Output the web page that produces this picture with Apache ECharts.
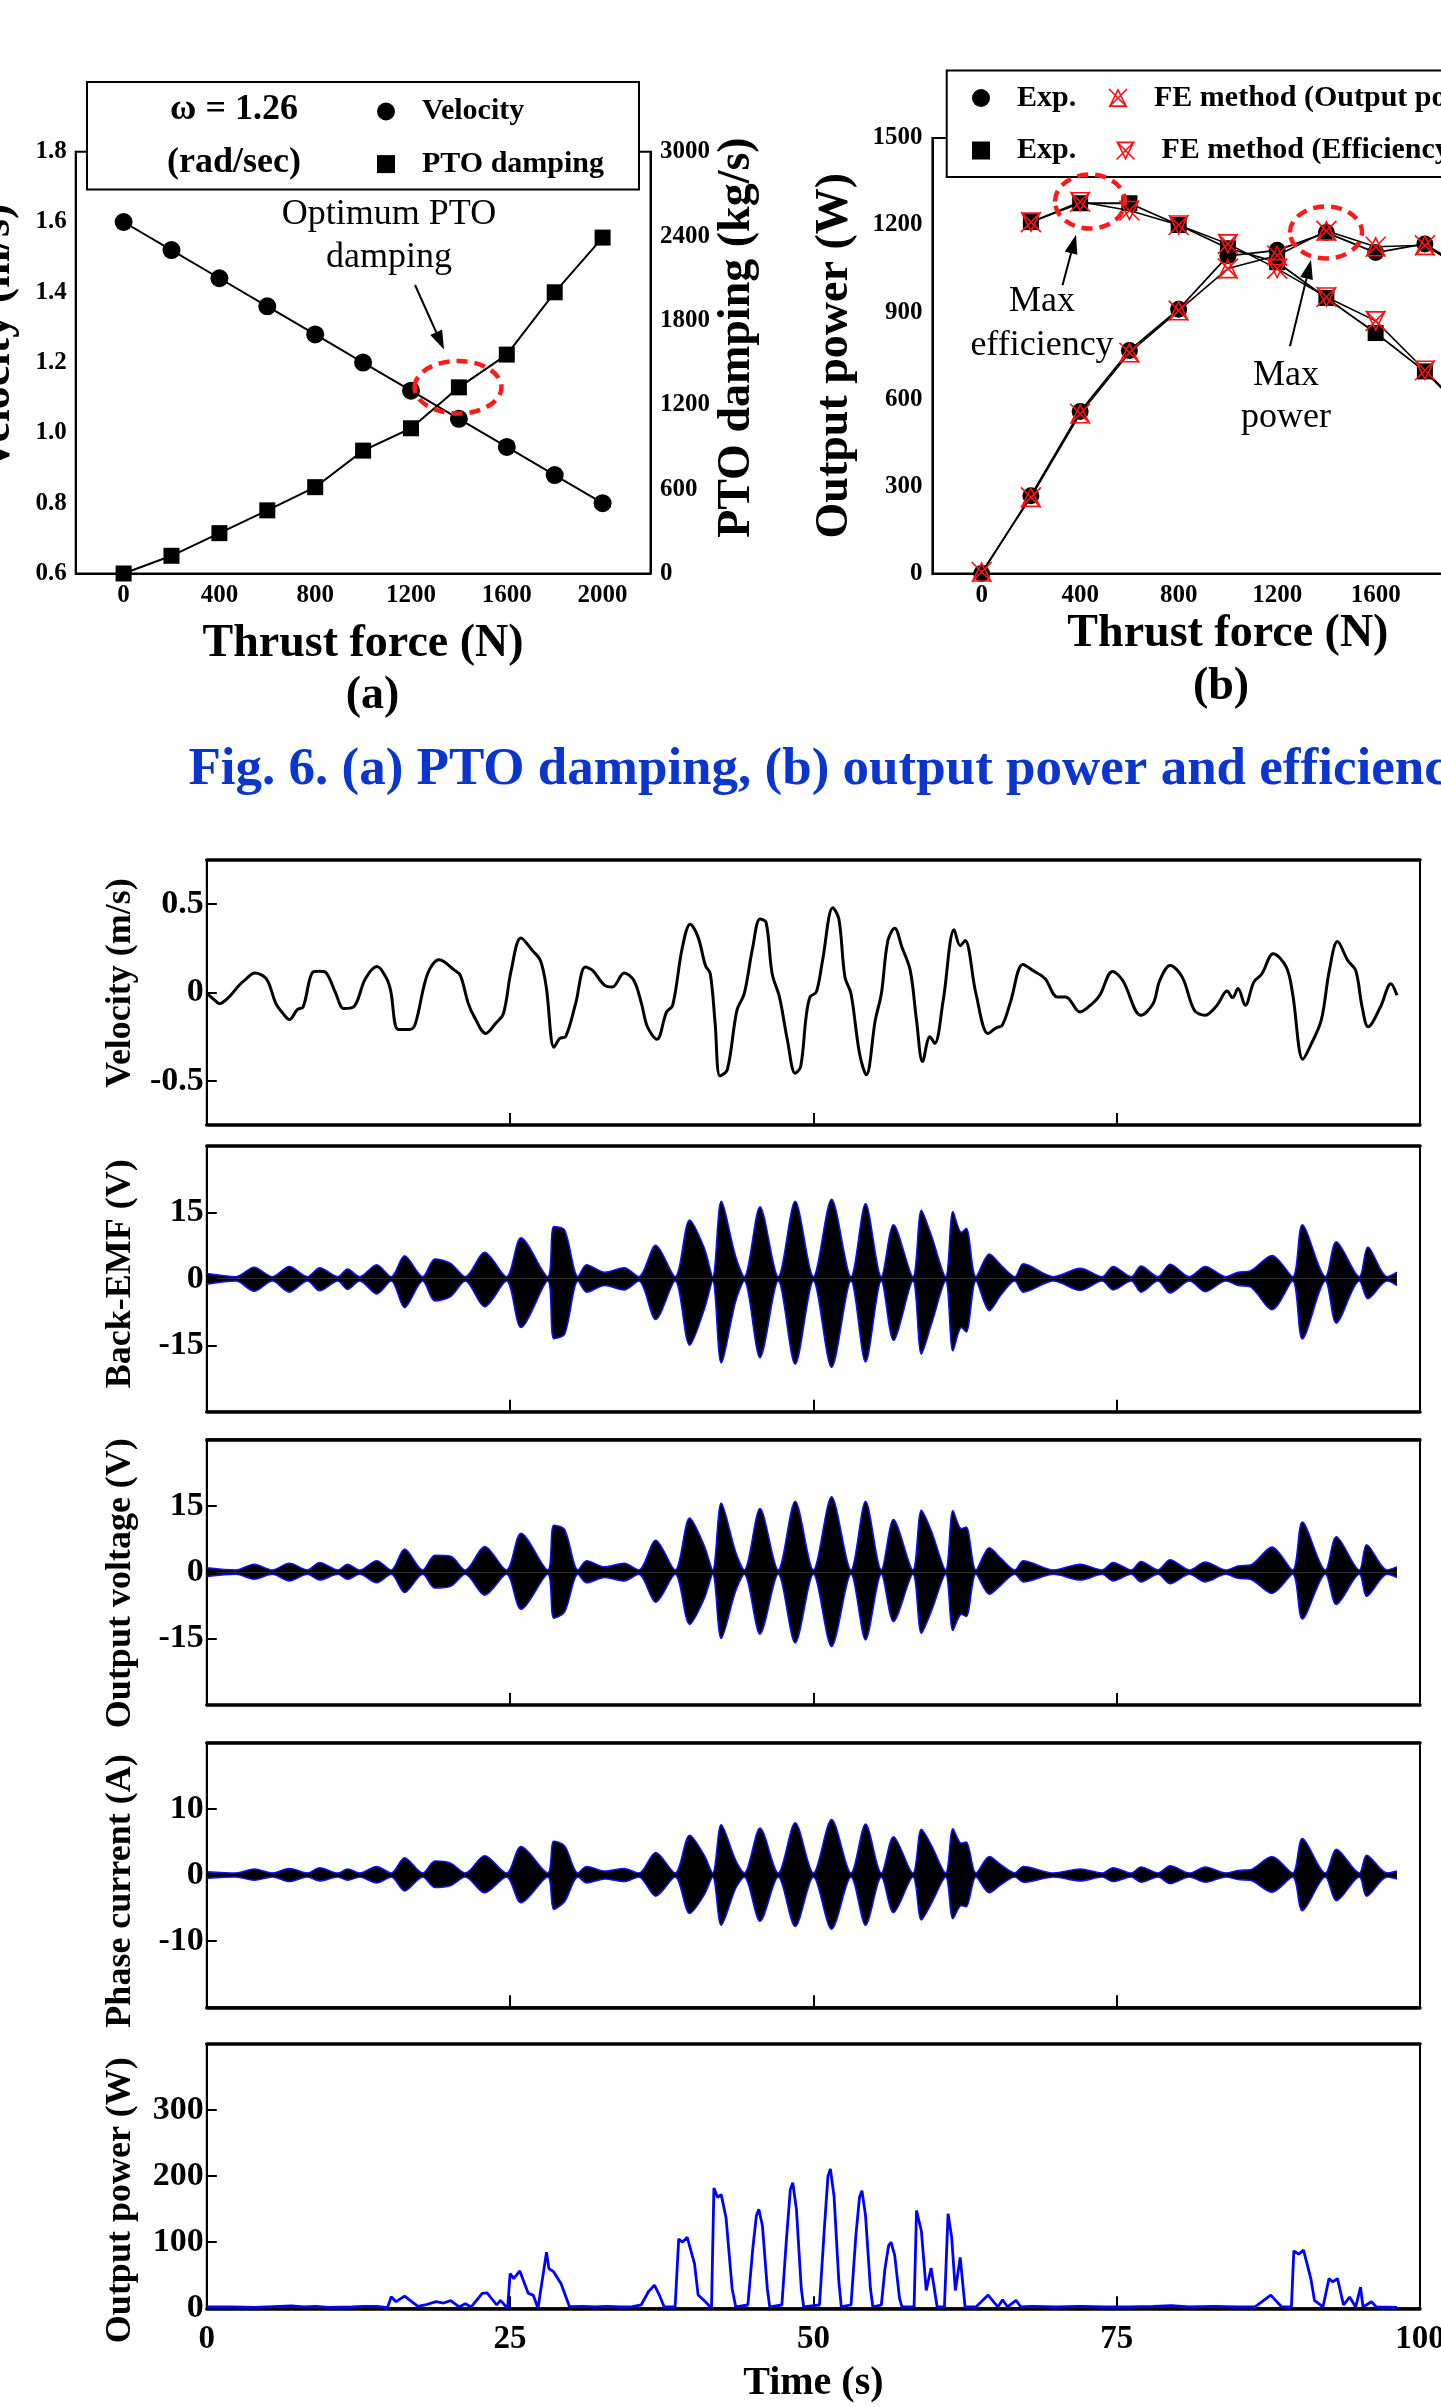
<!DOCTYPE html>
<html><head><meta charset="utf-8">
<script src="https://cdn.jsdelivr.net/npm/echarts@6/dist/echarts.min.js"></script>
<style>html,body{margin:0;padding:0;background:#fff;overflow:hidden;width:1441px;height:2407px}#c{width:1600px;height:2407px}</style>
</head><body><div id="c"></div>
<script>
// ---------- data: Fig. 6 (a) and (b) ----------
const thrustForce = [0,200,400,600,800,1000,1200,1400,1600,1800,2000];
const velocityA   = [1.60,1.52,1.44,1.36,1.28,1.20,1.12,1.04,0.96,0.88,0.80];
const ptoDamping  = [0,126,287,449,614,874,1033,1324,1557,2000,2389];
const powerExp    = [0,268,558,768,910,1094,1113,1174,1105,1135,1030];
const powerFE     = [5,262,550,760,905,1050,1095,1180,1125,1130,1025];
const effExp      = [null,1210,1275,1275,1200,1120,1072,949,828,696,525];
const effFE       = [null,1210,1280,1250,1200,1135,1050,952,870,700,530];

// ---------- tick labels ----------
const forceTicks  = [0,400,800,1200,1600,2000];
const velTicksA   = [0.6,0.8,1.0,1.2,1.4,1.6,1.8];
const ptoTicks    = [0,600,1200,1800,2400,3000];
const powerTicksB = [0,300,600,900,1200,1500];
const velTicks    = [-0.5,0,0.5];
const emfTicks    = [-15,0,15];
const voltTicks   = [-15,0,15];
const currTicks   = [-10,0,10];
const powTicks    = [0,100,200,300];

// ---------- time series (t [s], value) ----------
const velocityWave = [[0.1,-0.01],[0.6,-0.04],[1.04,-0.063],[1.84,-0.025],[2.65,0.04],[3.3,0.08],[3.93,0.11],[4.9,0.078],[5.7,-0.063],[6.3,-0.12],[6.81,-0.153],[7.46,-0.097],[7.94,-0.082],[8.74,0.115],[9.3,0.12],[9.86,0.11],[10.6,0.0],[11.3,-0.091],[12.1,-0.082],[13.07,0.078],[14.03,0.147],[14.83,0.078],[15.15,0.012],[15.79,-0.209],[16.76,-0.209],[17.2,-0.175],[18.2,0.106],[19.16,0.185],[20.44,0.125],[20.9,0.097],[21.56,-0.063],[22.05,-0.138],[23.0,-0.232],[23.8,-0.175],[24.45,-0.119],[25.09,0.125],[25.9,0.309],[26.85,0.237],[27.5,0.181],[27.98,0.031],[28.62,-0.31],[29.1,-0.26],[29.58,-0.25],[30.4,-0.063],[31.2,0.144],[31.8,0.125],[32.8,0.04],[33.43,0.031],[34.4,0.11],[35.2,0.068],[35.83,-0.063],[36.32,-0.194],[37.1,-0.265],[37.9,-0.11],[38.4,-0.073],[39.2,0.256],[39.85,0.387],[40.5,0.312],[41.1,0.153],[41.5,0.106],[41.9,-0.175],[42.3,-0.472],[42.9,-0.438],[43.7,-0.1],[44.3,-0.007],[45.0,0.256],[45.6,0.416],[46.1,0.397],[46.6,0.106],[47.2,-0.025],[47.86,-0.27],[48.5,-0.457],[48.95,-0.42],[49.4,-0.138],[49.73,-0.025],[50.24,0.003],[50.75,0.18],[51.6,0.48],[52.1,0.416],[52.6,0.087],[53.1,-0.007],[53.8,-0.344],[54.36,-0.466],[55.1,-0.157],[55.6,-0.007],[56.14,0.294],[56.7,0.363],[57.3,0.256],[57.98,0.125],[58.5,-0.157],[59.0,-0.391],[59.6,-0.25],[60.0,-0.288],[60.7,-0.044],[61.6,0.355],[62.1,0.265],[62.5,0.294],[63.4,-0.007],[64.4,-0.232],[65.06,-0.2],[65.57,-0.185],[66.25,-0.053],[67.27,0.159],[68.1,0.125],[69.1,0.078],[70.1,-0.025],[70.8,-0.025],[71.97,-0.11],[72.98,-0.063],[73.6,-0.016],[74.66,0.119],[75.5,0.068],[77.0,-0.129],[78.0,-0.063],[78.55,0.068],[79.4,0.153],[80.4,0.087],[81.4,-0.1],[82.26,-0.129],[83.26,-0.073],[84.1,0.008],[84.55,-0.029],[85.0,0.022],[85.6,-0.073],[86.3,0.059],[86.97,0.106],[87.9,0.219],[88.98,0.144],[89.5,-0.007],[90.35,-0.378],[91.0,-0.297],[91.86,-0.157],[92.53,0.125],[93.2,0.288],[94.05,0.181],[94.7,0.125],[95.23,-0.082],[95.73,-0.194],[96.74,-0.082],[97.6,0.05],[98.1,-0.016]];

// envelopes [t, upper, lower]
const emfEnvelope = [[0,1.2,-1.2],[2.4,0.5,-0.5],[3.9,2.6,-2.8],[5.4,0.5,-0.5],[6.8,2.8,-3.0],[8.3,0.5,-0.5],[9.3,2.5,-2.7],[10.8,0.5,-0.5],[11.6,2.2,-2.4],[12.6,0.5,-0.5],[14.0,3.2,-3.4],[15.2,0.5,-0.5],[16.3,5.2,-6.5],[17.8,0.5,-0.5],[18.8,4.5,-5.0],[20.1,3.5,-4.0],[21.3,0.5,-0.5],[22.9,6.0,-6.3],[24.7,0.5,-0.5],[25.9,9.3,-11.0],[28.1,0.5,-0.5],[28.6,11.8,-13.5],[29.5,11.0,-12.5],[30.6,0.5,-0.5],[31.3,3.2,-3.0],[32.8,1.5,-1.5],[34.4,2.5,-2.5],[35.6,0.5,-0.5],[37.0,7.6,-9.2],[38.6,0.5,-0.5],[39.8,13.3,-15.0],[41.0,7.0,-7.0],[41.7,0.5,-0.5],[42.4,17.5,-19.0],[43.6,5.0,-5.0],[44.3,0.5,-0.5],[45.6,16.3,-17.8],[47.1,0.5,-0.5],[48.5,17.5,-19.3],[50.0,0.5,-0.5],[51.5,18.0,-20.0],[53.1,0.5,-0.5],[54.3,17.0,-18.8],[55.6,0.5,-0.5],[56.6,12.2,-13.9],[58.2,0.5,-0.5],[58.9,15.5,-17.0],[59.7,10.0,-10.5],[60.9,0.5,-0.5],[61.5,15.2,-16.3],[62.2,10.5,-11.0],[62.6,11.4,-12.0],[63.4,0.5,-0.5],[64.5,5.6,-7.2],[65.5,3.0,-3.5],[66.6,0.5,-0.5],[67.3,3.4,-3.0],[69.8,0.5,-0.5],[72.0,2.4,-2.6],[73.8,0.5,-0.5],[74.7,2.8,-2.5],[76.2,0.5,-0.5],[77.0,2.9,-3.0],[78.4,0.5,-0.5],[79.4,3.3,-3.2],[81.0,0.5,-0.5],[82.3,2.8,-2.9],[84.0,0.5,-0.5],[85.0,1.5,-1.5],[86.0,1.8,-1.8],[87.8,5.3,-7.0],[89.5,0.5,-0.5],[90.3,12.2,-13.6],[92.2,0.5,-0.5],[93.1,8.4,-10.0],[95.0,0.5,-0.5],[95.7,7.2,-4.5],[97.3,0.5,-0.5],[98.1,1.5,-1.5]];

const voltEnvelope = [[0,1.0,-1.0],[2.4,0.5,-0.5],[3.9,1.8,-1.6],[5.4,0.5,-0.5],[6.8,2.0,-2.0],[8.3,0.5,-0.5],[9.3,2.2,-1.8],[10.8,0.5,-0.5],[11.6,1.8,-1.6],[12.6,0.5,-0.5],[14.0,2.6,-2.4],[15.2,0.5,-0.5],[16.3,5.2,-4.6],[17.8,0.5,-0.5],[18.8,3.8,-3.6],[20.1,3.6,-3.2],[21.3,0.5,-0.5],[22.9,5.8,-5.2],[24.7,0.5,-0.5],[25.9,8.8,-8.4],[28.1,0.5,-0.5],[28.6,10.6,-10.4],[29.5,9.6,-9.0],[30.6,0.5,-0.5],[31.3,2.6,-2.4],[32.8,1.2,-1.2],[34.4,2.0,-2.0],[35.6,0.5,-0.5],[37.0,7.2,-6.8],[38.6,0.5,-0.5],[39.8,12.2,-11.8],[41.0,6.0,-6.0],[41.7,0.5,-0.5],[42.4,15.6,-15.0],[43.6,4.5,-4.2],[44.3,0.5,-0.5],[45.6,14.4,-14.0],[47.1,0.5,-0.5],[48.5,16.0,-16.0],[50.0,0.5,-0.5],[51.5,17.0,-16.8],[53.1,0.5,-0.5],[54.3,16.0,-15.3],[55.6,0.5,-0.5],[56.6,11.9,-11.2],[58.2,0.5,-0.5],[58.9,14.0,-13.8],[59.7,9.5,-9.0],[60.9,0.5,-0.5],[61.5,13.9,-13.2],[62.2,9.8,-9.5],[62.6,10.2,-10.0],[63.4,0.5,-0.5],[64.5,5.5,-5.0],[65.5,3.0,-2.8],[66.6,0.5,-0.5],[67.3,2.6,-2.2],[69.8,0.5,-0.5],[72.0,1.8,-1.8],[73.8,0.5,-0.5],[74.7,2.2,-2.0],[76.2,0.5,-0.5],[77.0,2.4,-2.2],[78.4,0.5,-0.5],[79.4,2.8,-2.6],[81.0,0.5,-0.5],[82.3,2.3,-2.2],[84.0,0.5,-0.5],[85.0,1.4,-1.4],[86.0,1.6,-1.6],[87.8,5.7,-4.8],[89.5,0.5,-0.5],[90.3,11.3,-10.6],[92.2,0.5,-0.5],[93.1,8.0,-7.3],[95.0,0.5,-0.5],[95.6,6.2,-5.5],[97.3,0.5,-0.5],[98.1,1.2,-1.2]];

const currEnvelope = [[0,0.5,-0.5],[2.4,0.3,-0.3],[3.9,0.9,-0.8],[5.4,0.3,-0.3],[6.8,1.0,-1.0],[8.3,0.3,-0.3],[9.3,1.1,-0.9],[10.8,0.3,-0.3],[11.6,0.9,-0.8],[12.6,0.3,-0.3],[14.0,1.3,-1.2],[15.2,0.3,-0.3],[16.3,2.6,-2.4],[17.8,0.3,-0.3],[18.8,2.1,-1.9],[20.1,1.8,-1.6],[21.3,0.3,-0.3],[22.9,2.9,-2.7],[24.7,0.3,-0.3],[25.9,4.3,-4.2],[28.1,0.3,-0.3],[28.6,5.1,-5.2],[29.5,4.4,-4.0],[30.6,0.3,-0.3],[31.3,1.3,-1.2],[32.8,0.6,-0.6],[34.4,1.0,-1.0],[35.6,0.3,-0.3],[37.0,3.4,-3.2],[38.6,0.3,-0.3],[39.8,6.0,-5.8],[41.0,3.0,-3.0],[41.7,0.3,-0.3],[42.4,7.6,-7.6],[43.6,2.2,-2.0],[44.3,0.3,-0.3],[45.6,7.1,-7.0],[47.1,0.3,-0.3],[48.5,7.9,-7.8],[50.0,0.3,-0.3],[51.5,8.4,-8.2],[53.1,0.3,-0.3],[54.3,7.7,-7.6],[55.6,0.3,-0.3],[56.6,5.8,-5.7],[58.2,0.3,-0.3],[58.9,6.9,-6.8],[59.7,4.6,-4.4],[60.9,0.3,-0.3],[61.5,7.0,-6.6],[62.2,4.8,-4.6],[62.6,5.0,-4.8],[63.4,0.3,-0.3],[64.5,2.8,-2.7],[65.5,1.5,-1.4],[66.6,0.3,-0.3],[67.3,1.3,-1.1],[69.8,0.3,-0.3],[72.0,0.9,-0.9],[73.8,0.3,-0.3],[74.7,1.1,-1.0],[76.2,0.3,-0.3],[77.0,1.2,-1.1],[78.4,0.3,-0.3],[79.4,1.4,-1.3],[81.0,0.3,-0.3],[82.3,1.2,-1.1],[84.0,0.3,-0.3],[85.0,0.7,-0.7],[86.0,0.8,-0.8],[87.8,2.8,-2.6],[89.5,0.3,-0.3],[90.3,5.5,-5.4],[92.2,0.3,-0.3],[93.1,3.9,-3.9],[95.0,0.3,-0.3],[95.6,3.0,-3.2],[97.3,0.3,-0.3],[98.1,0.6,-0.6]];

const outputPowerWave = [[0,2],[2,2],[4,1.5],[6,3],[7,3.5],[8,2],[9,3],[10,1.5],[12,2],[13,3],[14,3],[14.9,1],[15.2,17.5],[15.6,10],[16.3,18.5],[17.4,3],[18.0,5],[18.9,10],[19.5,8],[20.1,11.5],[20.8,2],[21.3,7],[21.8,2],[22.7,22.5],[23.1,23.5],[23.9,5],[24.2,12],[24.8,0],[25.0,52.5],[25.3,45],[25.8,56.5],[26.5,22.5],[26.9,20],[27.3,0],[28.0,85],[28.2,60],[28.6,55],[29.2,37],[29.9,2.5],[31,3],[32,2],[33,3],[34,2],[35,2],[35.8,5],[36.4,25],[36.9,35],[37.3,20],[37.7,2],[38.6,2],[38.9,105],[39.2,100],[39.6,107.5],[40.2,67.5],[40.5,20],[41.1,10],[41.6,0],[41.8,182],[42.1,168],[42.4,172],[42.8,137],[43.3,30],[43.6,2],[44.6,5],[45.0,90],[45.3,140],[45.5,150],[45.8,125],[46.2,30],[46.4,2],[47.4,5],[47.8,110],[48.1,180],[48.3,190],[48.6,150],[49.0,30],[49.2,2],[50.5,5],[50.9,120],[51.2,200],[51.4,211],[51.7,170],[52.1,40],[52.3,2],[53.1,5],[53.5,110],[53.8,168],[54.0,178],[54.3,140],[54.7,30],[54.9,2],[55.6,5],[55.9,60],[56.2,95],[56.4,100],[56.7,80],[57.1,15],[57.3,2],[58.3,2],[58.5,148],[58.9,117],[59.3,27],[59.7,61],[60.2,2],[60.8,2],[61.1,143],[61.4,107],[61.7,27],[62.1,77],[62.5,2],[63.4,2],[64.4,20],[65.2,2],[65.6,13],[66.0,2],[66.7,12],[67.1,2],[68,3],[70,2],[72,3],[74,2],[76,2],[78,3],[79.5,4],[81,2],[83,3],[85,2],[86.4,2],[87.7,20],[88.6,2],[89.4,2],[89.6,87],[90.0,82],[90.4,88],[91.0,45],[91.3,12],[92.0,2],[92.5,45],[92.8,40],[93.2,45],[93.7,5],[94.2,17],[94.7,2],[95.1,32],[95.3,2],[96,10],[96.4,2],[98.1,1.5]];

// ---------- styling ----------
const FONT = '"Liberation Serif", "Times New Roman", serif';
const SYM_UP = 'path://M0 0 L20 20 M20 0 L0 20 M10 1 L19 19 L1 19 Z';
const SYM_DOWN = 'path://M0 0 L20 20 M20 0 L0 20 M1 1 L19 1 L10 19 Z';
const feItem = {color:'rgba(0,0,0,0)', borderColor:'#ff1010', borderWidth:1.6};
const blackTxt = {color:'#000', fontFamily:FONT, fontWeight:'bold'};
const plain = v => String(Math.round(v*1000)/1000);

const bottomTops = [860,1146,1439.3,1742.7,2044];
const bottomHeights = [265,265.7,265.7,264.6,264.3];

const grids = [
  {left:75.7, top:151.7, width:574.8, height:421.8},
  {left:932.4, top:137.9, width:591, height:435.6}
].concat(bottomTops.map((t,i)=>({left:206.8, top:t, width:1213.2, height:bottomHeights[i]})));
grids.forEach(g=>{g.show=true; g.borderColor='#000'; g.borderWidth=2; g.backgroundColor='transparent';
  g.containLabel=false; g.outerBoundsMode='none';});

function forceAxis(gi, gap){
  return {type:'value', gridIndex:gi, min:-200, max:2200,
    axisLine:{show:true, onZero:false, lineStyle:{color:'#000', width:2}}, axisTick:{show:false}, splitLine:{show:false},
    axisLabel:Object.assign({customValues:forceTicks, fontSize:25, margin:10, formatter:plain}, blackTxt),
    name:'Thrust force (N)', nameLocation:'middle', nameGap:gap,
    nameTextStyle:Object.assign({fontSize:46, lineHeight:46}, blackTxt)};
}
function timeAxis(gi, last){
  return {type:'value', gridIndex:gi, min:0, max:100, interval:25,
    axisLine:{show:true, onZero:false, lineStyle:{color:'#000', width:3.5}},
    axisTick:{show:true, inside:true, length:12, lineStyle:{color:'#000', width:2}},
    axisLabel:Object.assign({show:last, fontSize:33, margin:15, formatter:plain}, blackTxt),
    splitLine:{show:false},
    name: last ? 'Time (s)' : '', nameLocation:'middle', nameGap:55,
    nameTextStyle:Object.assign({fontSize:40, lineHeight:40}, blackTxt)};
}
function topAxis(gi){
  return {type:'value', gridIndex:gi, position:'top', min:0, max:100,
    axisLine:{show:true, onZero:false, lineStyle:{color:'#000', width:3.5}}, axisTick:{show:false}, axisLabel:{show:false}, splitLine:{show:false}};
}
function panelY(gi, min, max, ticks, name, pad){
  return {type:'value', gridIndex:gi, min, max,
    axisLine:{show:true, onZero:false, lineStyle:{color:'#000', width:2}},
    axisTick:{show:true, inside:true, length:10, customValues:ticks, lineStyle:{color:'#000', width:2}},
    axisLabel:Object.assign({customValues:ticks, fontSize:34, margin:3, formatter:plain}, blackTxt),
    splitLine:{show:false},
    name, nameLocation:'middle', nameRotate:90, nameGap:68,
    nameTextStyle:Object.assign({fontSize:36, lineHeight:36, padding:pad}, blackTxt)};
}

const xAxes = [forceAxis(0, 48), forceAxis(1, 38)];
for (let g=2; g<=6; g++) xAxes.push(timeAxis(g, g===6));
for (let g=2; g<=6; g++) xAxes.push(topAxis(g));

const yAxes = [
  {type:'value', gridIndex:0, position:'left', min:0.6, max:1.8,
    axisLine:{show:true, onZero:false, lineStyle:{color:'#000', width:2}}, axisTick:{show:false}, splitLine:{show:false},
    axisLabel:Object.assign({customValues:velTicksA, fontSize:25, margin:9, formatter:v=>Number(v).toFixed(1)}, blackTxt),
    name:'Velocity (m/s)', nameLocation:'middle', nameRotate:90, nameGap:56,
    nameTextStyle:Object.assign({fontSize:46, lineHeight:46, padding:[0,0,0,50]}, blackTxt)},
  {type:'value', gridIndex:0, position:'right', min:0, max:3000,
    axisLine:{show:true, onZero:false, lineStyle:{color:'#000', width:2}}, axisTick:{show:false}, splitLine:{show:false},
    axisLabel:Object.assign({customValues:ptoTicks, fontSize:25, margin:9.5, formatter:plain}, blackTxt),
    name:'PTO damping (kg/s)', nameLocation:'middle', nameRotate:90, nameGap:64,
    nameTextStyle:Object.assign({fontSize:46, lineHeight:46, padding:[0,0,0,50]}, blackTxt)},
  {type:'value', gridIndex:1, position:'left', min:0, max:1500,
    axisLine:{show:true, onZero:false, lineStyle:{color:'#000', width:2}}, axisTick:{show:false}, splitLine:{show:false},
    axisLabel:Object.assign({customValues:powerTicksB, fontSize:25, margin:10, formatter:plain}, blackTxt),
    name:'Output power (W)', nameLocation:'middle', nameRotate:90, nameGap:74,
    nameTextStyle:Object.assign({fontSize:46, lineHeight:46}, blackTxt)},
  panelY(2, -0.75, 0.75, velTicks, 'Velocity (m/s)', [0,0,0,19]),
  panelY(3, -30, 30, emfTicks, 'Back-EMF (V)', [0,0,0,10]),
  panelY(4, -30, 30, voltTicks, 'Output voltage (V)', [0,22,0,0]),
  panelY(5, -20, 20, currTicks, 'Phase current (A)', [0,32,0,0]),
  panelY(6, 0, 400, powTicks, 'Output power (W)', [0,48,0,0])
];

const pairs = (xs, ys) => xs.map((x,i)=>[x, ys[i]]).filter(p=>p[1]!==null);

function envSeries(xi, yi, env){
  const base = {type:'line', xAxisIndex:xi, yAxisIndex:yi, symbol:'none', smooth:0.3, silent:true,
    areaStyle:{color:'#000', opacity:1, origin:0}};
  return [
    Object.assign({}, base, {data:env.map(d=>[d[0], d[1]]), lineStyle:{color:'#1010ff', width:1.5}}),
    Object.assign({}, base, {data:env.map(d=>[d[0], d[2]]), lineStyle:{color:'#1010ff', width:1.5}})
  ];
}

const series = [
  {type:'line', name:'Velocity', xAxisIndex:0, yAxisIndex:0, data:pairs(thrustForce, velocityA),
    symbol:'circle', symbolSize:18, itemStyle:{color:'#000'}, lineStyle:{color:'#000', width:2}},
  {type:'line', name:'PTO damping', xAxisIndex:0, yAxisIndex:1, data:pairs(thrustForce, ptoDamping),
    symbol:'rect', symbolSize:16, itemStyle:{color:'#000'}, lineStyle:{color:'#000', width:2}},
  {type:'line', name:'Exp.', xAxisIndex:1, yAxisIndex:2, data:pairs(thrustForce, powerExp),
    symbol:'circle', symbolSize:17, itemStyle:{color:'#000'}, lineStyle:{color:'#000', width:1.8}},
  {type:'line', name:'Exp. ', xAxisIndex:1, yAxisIndex:2, data:pairs(thrustForce, effExp),
    symbol:'rect', symbolSize:16, itemStyle:{color:'#000'}, lineStyle:{color:'#000', width:1.8}},
  {type:'line', name:'FE method (Output power)', xAxisIndex:1, yAxisIndex:2, data:pairs(thrustForce, powerFE), z:4,
    symbol:SYM_UP, symbolSize:20, itemStyle:feItem, lineStyle:{color:'#000', width:1.5}},
  {type:'line', name:'FE method (Efficiency)', xAxisIndex:1, yAxisIndex:2, data:pairs(thrustForce, effFE), z:4,
    symbol:SYM_DOWN, symbolSize:20, itemStyle:feItem, lineStyle:{color:'#000', width:1.5}},
  {type:'line', xAxisIndex:2, yAxisIndex:3, data:velocityWave, symbol:'none', smooth:0.35,
    lineStyle:{color:'#000', width:3}}
].concat(envSeries(3,4,emfEnvelope), envSeries(4,5,voltEnvelope), envSeries(5,6,currEnvelope), [
  {type:'line', xAxisIndex:6, yAxisIndex:7, data:outputPowerWave, symbol:'none',
    lineStyle:{color:'#0000ff', width:2.8}}
]);

const legendText = Object.assign({fontSize:30, lineHeight:30, padding:[0,0,0,22]}, blackTxt);
const legends = [
  {data:[{name:'Velocity', icon:'circle'},{name:'PTO damping', icon:'rect'}], orient:'vertical',
    left:372, top:91.5, itemWidth:18, itemHeight:18, itemGap:22.6, textStyle:legendText, selectedMode:false, z:10},
  {data:[{name:'Exp.', icon:'circle'},{name:'FE method (Output power)', icon:SYM_UP, itemStyle:feItem}], orient:'horizontal',
    left:967, top:78, width:640, itemWidth:18, itemHeight:18, itemGap:32, textStyle:legendText, selectedMode:false, z:10},
  {data:[{name:'Exp. ', icon:'rect'},{name:'FE method (Efficiency)', icon:SYM_DOWN, itemStyle:feItem}], orient:'horizontal',
    left:967, top:130.5, width:640, itemWidth:18, itemHeight:18, itemGap:32, textStyle:legendText, selectedMode:false, z:10}
];

// ---------- annotations ----------
function txt(x, y, text, font, fill, align){
  return {type:'text', x, y, z:12, style:{text, font, fill:fill||'#000', align:align||'center', verticalAlign:'middle'}};
}
function ellipse(cx, cy, rx, ry){
  return {type:'ellipse', z:12, shape:{cx, cy, rx, ry}, style:{fill:'none', stroke:'#ff1a1a', lineWidth:4.5, lineDash:[11,7]}};
}
function arrow(x1, y1, x2, y2){
  const dx=x2-x1, dy=y2-y1, L=Math.hypot(dx,dy), ux=dx/L, uy=dy/L, hl=19, hw=6.5;
  const bx=x2-ux*hl, by=y2-uy*hl;
  return [
    {type:'line', z:12, shape:{x1, y1, x2:bx, y2:by}, style:{stroke:'#000', lineWidth:2}},
    {type:'polygon', z:12, shape:{points:[[x2,y2],[bx-uy*hw, by+ux*hw],[bx+uy*hw, by-ux*hw]]}, style:{fill:'#000'}}
  ];
}
const fBold = s => 'bold ' + s + 'px ' + FONT;
const fReg = s => s + 'px ' + FONT;

const graphics = [
  {type:'rect', z:5, shape:{x:87, y:82, width:552, height:107.6}, style:{fill:'#fff', stroke:'#000', lineWidth:2}},
  {type:'rect', z:5, shape:{x:946.7, y:70.5, width:620, height:106.5}, style:{fill:'#fff', stroke:'#000', lineWidth:2}},
  txt(234, 109.7, 'ω = 1.26', fBold(36)),
  txt(234, 162.3, '(rad/sec)', fBold(36)),
  txt(389, 215, 'Optimum PTO', fReg(36)),
  txt(389, 258, 'damping', fReg(36)),
  ellipse(458, 387.3, 43.4, 26.3),
  txt(372.5, 696, '(a)', fBold(46)),
  txt(1042, 302, 'Max', fReg(36)),
  txt(1042, 345.4, 'efficiency', fReg(36)),
  ellipse(1090, 201.5, 35, 27),
  txt(1286, 375.7, 'Max', fReg(36)),
  txt(1286, 417.7, 'power', fReg(36)),
  ellipse(1326, 232.4, 36, 26),
  txt(1221, 687, '(b)', fBold(46)),
  txt(188.4, 770, 'Fig. 6. (a) PTO damping, (b) output power and efficiency', fBold(53), '#0b35cf', 'left')
].concat(arrow(415, 285, 444, 349.6), arrow(1062.5, 285.2, 1076, 234.7), arrow(1290, 346.2, 1311, 260));

const chart = echarts.init(document.getElementById('c'), null, {renderer:'canvas'});
chart.setOption({
  animation:false,
  backgroundColor:'#fff',
  textStyle:{fontFamily:FONT},
  grid:grids,
  xAxis:xAxes,
  yAxis:yAxes,
  legend:legends,
  series:series,
  graphic:{elements:graphics}
});
</script></body></html>
